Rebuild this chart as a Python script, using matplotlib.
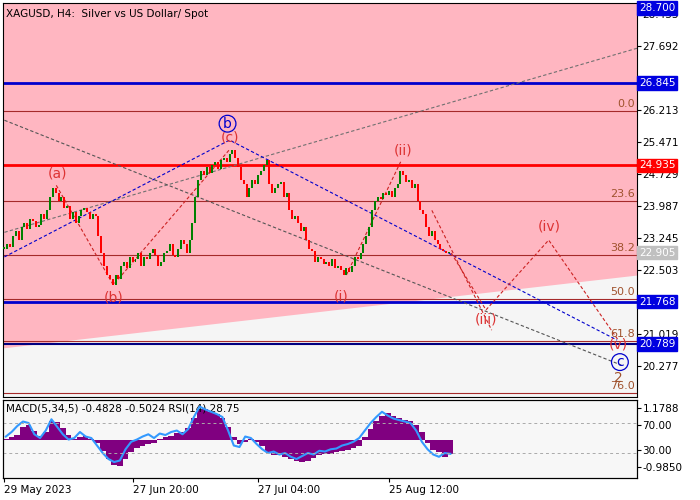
import matplotlib
matplotlib.use("Agg")
import matplotlib.pyplot as plt
import numpy as np

closes = [23.0,23.1,23.05,23.3,23.4,23.2,23.5,23.6,23.45,23.7,23.65,23.5,23.55,23.8,23.7,23.9,24.2,24.4,24.3,
          24.1,24.2,23.95,24.0,23.7,23.85,23.6,23.75,23.9,23.95,23.85,23.7,23.8,23.75,
          23.3,22.9,22.6,22.4,22.3,22.15,
          22.4,22.3,22.6,22.7,22.55,22.8,22.7,22.75,22.9,22.6,22.8,22.75,22.9,23.0,22.85,22.6,22.7,22.9,22.95,23.1,22.85,22.8,23.0,23.2,23.1,22.9,23.2,
          23.6,24.2,24.6,24.8,24.7,24.9,24.75,24.95,25.0,24.85,25.05,25.1,25.0,25.2,25.3,
          25.1,24.9,24.6,24.5,24.2,24.4,24.6,24.5,24.7,24.8,24.95,25.05,
          24.5,24.3,24.4,24.5,24.55,24.2,24.3,23.9,23.7,23.75,23.6,23.4,23.5,23.2,23.0,22.95,22.7,22.8,22.75,22.65,22.7,22.6,22.75,22.55,22.6,22.5,22.4,22.55,
          22.45,22.6,22.8,22.75,22.9,23.1,23.3,23.5,23.9,24.1,24.2,24.15,24.3,24.25,24.35,24.2,24.4,24.5,24.8,24.7,24.55,24.6,
          24.4,24.5,24.1,23.9,23.8,23.5,23.3,23.4,23.2,23.1,23.0,22.95,22.9,22.905]
macd = [0.05,0.1,0.2,0.5,0.55,0.35,0.15,0.3,0.7,0.65,0.45,0.2,0.05,0.1,0.15,0.05,-0.1,-0.4,-0.7,-0.9,
        -0.95,-0.7,-0.45,-0.3,-0.2,-0.15,-0.1,0.05,0.1,0.15,0.25,0.3,0.45,0.8,1.1,1.15,1.05,0.95,0.8,0.5,
        0.1,-0.15,-0.05,0.05,-0.05,-0.2,-0.45,-0.55,-0.55,-0.6,-0.7,-0.75,-0.8,-0.75,-0.65,-0.55,-0.5,-0.5,-0.45,-0.4,
        -0.35,-0.3,-0.2,0.1,0.4,0.7,0.9,1.0,0.9,0.8,0.75,0.7,0.55,0.3,-0.1,-0.35,-0.45,-0.6,-0.5]
rsi = [52,58,66,72,70,55,50,60,75,65,55,48,50,58,52,50,40,30,22,18,20,35,45,48,52,55,50,56,54,58,60,55,62,78,92,88,85,82,78,60,
       40,38,52,50,42,35,30,32,28,30,25,22,26,30,28,33,32,35,36,40,42,45,50,60,70,78,85,80,76,74,72,70,60,45,35,28,25,30,29]
date_pos = [0, 45, 89, 135]
date_labels = ["29 May 2023", "27 Jun 20:00", "27 Jul 04:00", "25 Aug 12:00"]
price_ticks = [28.435, 27.692, 26.213, 25.471, 24.729, 23.987, 23.245, 22.503, 21.019, 20.277]
fib_levels = [26.19, 24.10, 22.85, 21.83, 20.86, 19.65]
fib_names = ["0.0", "23.6", "38.2", "50.0", "61.8", "76.0"]
box_levels = [(28.700, "#0000e0"), (26.845, "#0000e0"), (24.935, "#ff0000"), (22.905, "#c0c0c0"), (21.768, "#0000e0"), (20.789, "#0000e0")]

PINK = "#ffb6c1"
fig = plt.figure(figsize=(7, 5), dpi=100)
fig.patch.set_facecolor("white")
ax = fig.add_axes([3/700, 103/500, 634/700, 394/500])
ax.set_facecolor("#f5f5f5")
XMAX = 222
ax.set_xlim(-0.5, XMAX)
ax.set_ylim(19.56, 28.7)

xs = np.array([-0.5, XMAX])
ax.fill_between(xs, [20.70, 22.39], [28.7, 28.7], color=PINK, lw=0, zorder=0)

for lv in fib_levels:
    ax.axhline(lv, color="#a52a2a", lw=0.8, zorder=1)
for lv, nm in zip(fib_levels, fib_names):
    ax.text(XMAX - 0.8, lv + 0.05, nm, color="#a0522d", fontsize=8, ha="right", va="bottom")
ax.axhline(26.845, color="#0000cd", lw=2, zorder=2)
ax.axhline(24.935, color="#ff0000", lw=2, zorder=2)
ax.axhline(21.768, color="#0000cd", lw=2, zorder=2)
ax.axhline(20.789, color="#000080", lw=1.5, zorder=2)

ax.plot([0, 222], [23.38, 27.65], color="#707070", ls=(0, (3, 2)), lw=0.8)
ax.plot([0, 79, 215], [22.81, 25.52, 20.88], color="#0000cd", ls=(0, (3, 2)), lw=0.8)
ax.plot([0, 216.5], [25.98, 20.30], color="#555555", ls=(0, (3, 2)), lw=0.8)
rd = dict(color="#cc2222", ls=(0, (3, 2)), lw=0.8)
ax.plot([18.2, 38.2, 79], [24.47, 22.16, 25.3], **rd)
ax.plot([120, 139.3], [22.39, 25.05], **rd)
ax.plot([156.8, 169, 191, 215.4], [22.9, 21.58, 23.2, 20.88], **rd)
ax.plot([150, 171], [23.89, 21.11], **rd)

n = len(closes)
x = np.arange(n)
opens = np.r_[closes[0], closes[:-1]]
cl = np.array(closes)
up = cl >= opens
bottoms = np.minimum(opens, cl)
heights = np.maximum(np.abs(cl - opens), 0.03)
ax.bar(x[up], heights[up], bottom=bottoms[up], width=0.7, color="#008000", zorder=3)
ax.bar(x[~up], heights[~up], bottom=bottoms[~up], width=0.7, color="#ff0000", zorder=3)

red = "#dd3333"
for (bx, py, t) in [(18.7, 24.75, "(a)"), (38.2, 21.86, "(b)"), (79, 25.58, "(c)"), (118, 21.9, "(i)"),
                    (140, 25.28, "(ii)"), (169, 21.35, "(iii)"), (191.2, 23.52, "(iv)"), (215.4, 20.77, "(v)")]:
    ax.text(bx, py, t, color=red, fontsize=10, ha="center", va="center", zorder=5)
for (bx, py, t) in [(78.3, 25.9, "b"), (216, 20.37, "c")]:
    ax.text(bx, py, t, color="#0000cd", fontsize=10, ha="center", va="center", zorder=5,
            bbox=dict(boxstyle="circle,pad=0.1", fc="none", ec="#0000cd", lw=0.9))
ax.text(215.4, 20.0, "2", color="#a0522d", fontsize=10, ha="center", va="center")

ax.text(0.005, 0.985, "XAGUSD, H4:  Silver vs US Dollar/ Spot", transform=ax.transAxes,
        fontsize=7.5, va="top", ha="left")

ax.yaxis.tick_right()
ax.set_yticks(price_ticks)
ax.set_yticklabels([f"{v:.3f}" for v in price_ticks], fontsize=7.5)
ax.tick_params(axis="y", length=3, pad=1)
ax.set_xticks([])
for lv, c in box_levels:
    top = lv >= 28.6
    ax.text(1.003, lv, f"{lv:.3f}", transform=ax.get_yaxis_transform(), color="white", fontsize=7.5,
            va="top" if top else "center", ha="left", zorder=6, clip_on=False,
            bbox=dict(boxstyle="square,pad=0.15", fc=c, ec=c))
for s in ax.spines.values():
    s.set_color("black"); s.set_linewidth(0.8)

ax2 = fig.add_axes([3/700, 22/500, 634/700, 78/500])
ax2.set_facecolor("#f7f7f7")
ax2.set_xlim(-0.5, XMAX)
ax2.set_ylim(-1.388, 1.472)
mx = np.arange(len(macd)) * 2 + 0.5
ax2.bar(mx, macd, width=2.0, color="#800080", lw=0)
ax3 = ax2.twinx()
ax3.set_ylim(-3.3, 100.7)
rx = np.arange(len(rsi)) * 2 + 0.5
ax3.plot(rx, rsi, color="#3399ff", lw=1.5)
ax3.axhline(70, color="#aaaaaa", ls=(0, (3, 3)), lw=0.7)
ax3.axhline(30, color="#aaaaaa", ls=(0, (3, 3)), lw=0.7)
ax3.set_yticks([])
ax2.yaxis.tick_right()
ax2.set_yticks([1.1788, 0.55, -0.37, -0.985])
ax2.set_yticklabels(["1.1788", "70.00", "30.00", "-0.9850"], fontsize=7.5)
ax2.tick_params(axis="y", length=3, pad=1)
ax2.set_xticks(date_pos)
ax2.set_xticklabels(date_labels, fontsize=7.5, ha="left")
ax2.tick_params(axis="x", length=3, pad=2)
ax2.text(0.005, 0.95, "MACD(5,34,5) -0.4828 -0.5024 RSI(14) 28.75", transform=ax2.transAxes,
         fontsize=7.5, va="top", ha="left")
for a in (ax2, ax3):
    for s in a.spines.values():
        s.set_color("black"); s.set_linewidth(0.8)

fig.savefig("out.png", dpi=100)
